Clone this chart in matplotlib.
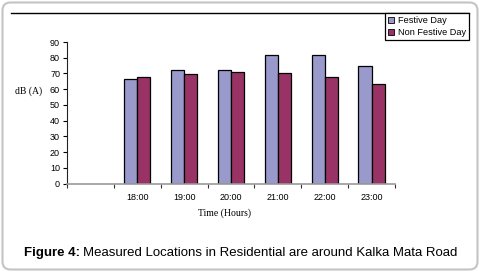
import numpy as np
import matplotlib
matplotlib.use("Agg")
import matplotlib.pyplot as plt
from matplotlib.patches import FancyBboxPatch, Patch
from matplotlib.lines import Line2D
from matplotlib.transforms import IdentityTransform

plt.rcParams["font.family"] = ["Liberation Sans", "DejaVu Sans"]

# data
hours = ["", "18:00", "19:00", "20:00", "21:00", "22:00", "23:00"]
festive = [np.nan, 66.5, 72.2, 72.2, 81.8, 81.8, 74.8]
non_festive = [np.nan, 67.8, 69.7, 70.9, 70.3, 67.8, 63.3]
yticks = [0, 10, 20, 30, 40, 50, 60, 70, 80, 90]

c_fest = "#9999cc"
c_non = "#993366"

fig = plt.figure(figsize=(4.8, 2.72), dpi=100)
ax = fig.add_axes([67/480, 1 - 183.7/272, (395-67)/480, 141.7/272])

x = np.arange(len(hours))
w = 0.28
ax.bar(x - w/2, festive, w, color=c_fest, edgecolor="black", linewidth=0.9)
ax.bar(x + w/2, non_festive, w, color=c_non, edgecolor="black", linewidth=0.9)

ax.set_xlim(-0.5, len(hours) - 0.5)
ax.set_ylim(0, 90)
ax.set_yticks(yticks)
ax.set_xticks(x)
ax.set_xticklabels(hours)
ax.set_xticks(np.arange(len(hours) + 1) - 0.5, minor=True)
ax.tick_params(axis="x", which="major", length=0, pad=7, labelsize=6.5)
ax.tick_params(axis="x", which="minor", length=3, width=0.8, color="#333333")
ax.tick_params(axis="y", length=3, width=0.8, pad=2, labelsize=6.5)

for s in ["top", "right"]:
    ax.spines[s].set_visible(False)
ax.spines["left"].set_color("#222222")
ax.spines["bottom"].set_color("#999999")
ax.spines["bottom"].set_linewidth(1.2)

fig.text(15/480, 1 - 91/272, "dB (A)", family="Liberation Serif", fontsize=7,
         va="center", ha="left")
fig.text(224/480, 1 - 213/272, "Time (Hours)", family="Liberation Serif",
         fontsize=7, va="center", ha="center")

# top rule and legend
fig.add_artist(Line2D([11/480, 469/480], [1 - 13.3/272] * 2, color="black",
                      linewidth=1, transform=fig.transFigure))
handles = [Patch(facecolor=c_fest, edgecolor="black", linewidth=0.6),
           Patch(facecolor=c_non, edgecolor="black", linewidth=0.6)]
leg = fig.legend(handles, ["Festive Day", "Non Festive Day"],
                 loc="upper right", bbox_to_anchor=(469/480, 1 - 13.3/272),
                 fancybox=False, edgecolor="black", framealpha=1,
                 prop={"size": 6.6},
                 handlelength=0.7, handleheight=0.7, handletextpad=0.4,
                 borderpad=0.3, labelspacing=0.35, borderaxespad=0)
leg.get_frame().set_linewidth(0.9)

# outer rounded frame
fig.patches.append(FancyBboxPatch((2.5, 2.5), 475, 267,
                                  boxstyle="round,pad=0,rounding_size=8",
                                  transform=IdentityTransform(),
                                  facecolor="none", edgecolor="#c4c4c4",
                                  linewidth=1.5))

# caption
fig.canvas.draw()
r = fig.canvas.get_renderer()
t1 = fig.text(24/480, 1 - 253/272, "Figure 4:", weight="bold", fontsize=9.5,
              va="center", ha="left")
bb = t1.get_window_extent(r)
fig.text(bb.x1/480 + 3/480, 1 - 253/272,
         "Measured Locations in Residential are around Kalka Mata Road",
         fontsize=9.5, va="center", ha="left")

fig.savefig("out.png", dpi=100)
